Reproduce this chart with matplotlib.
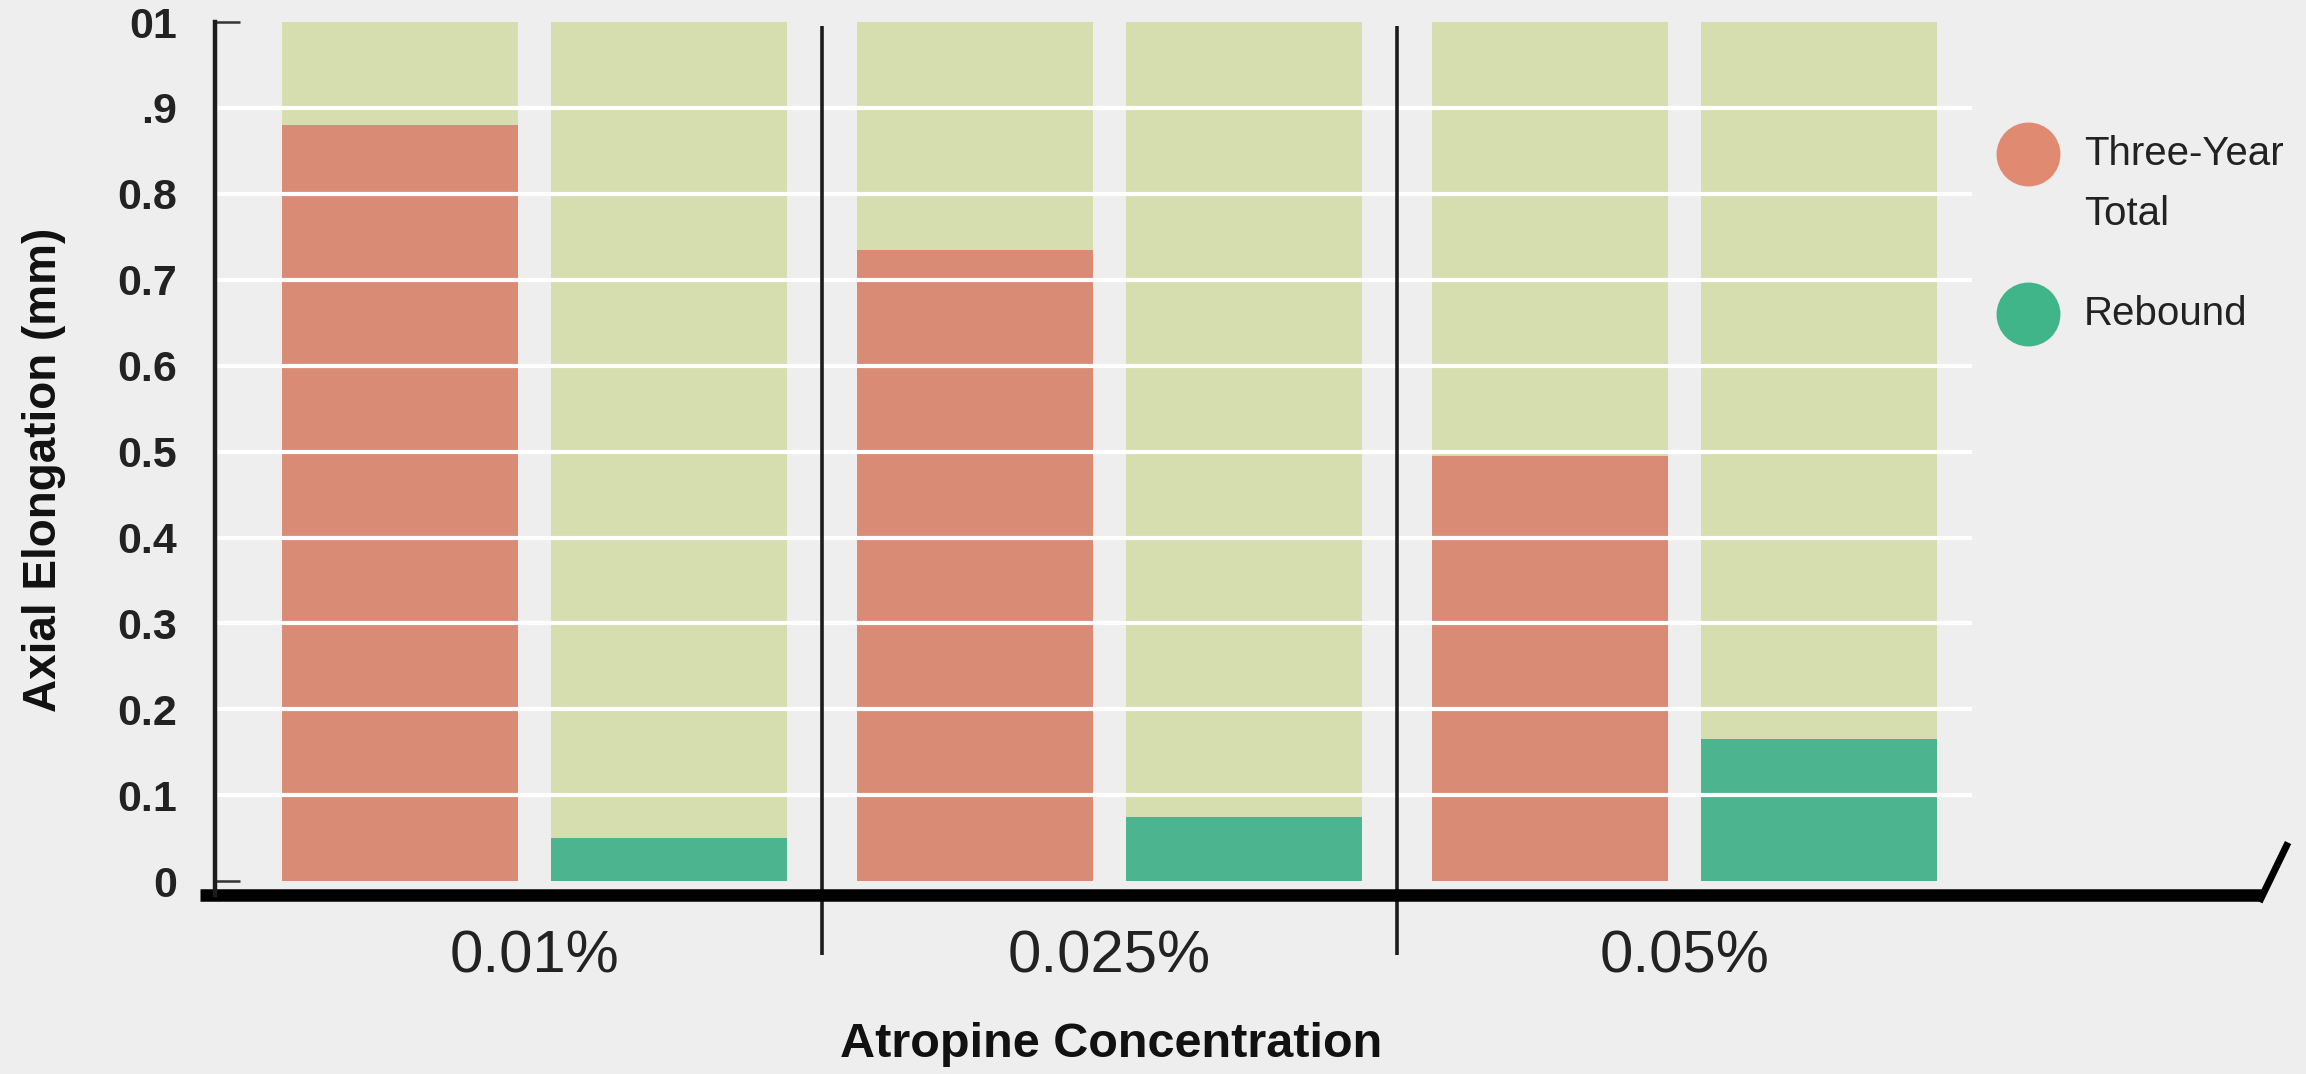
import numpy as np
import matplotlib.pyplot as plt

# axial elongation per atropine dose (mm)
concentrations = ['0.01%', '0.025%', '0.05%']
three_year_total = [0.88, 0.735, 0.495]
rebound = [0.05, 0.075, 0.165]
scale_max = 1.0
y_ticks = [0, 0.1, 0.2, 0.3, 0.4, 0.5, 0.6, 0.7, 0.8, 0.9, 1.0]
y_tick_labels = ['0', '0.1', '0.2', '0.3', '0.4', '0.5', '0.6', '0.7', '0.8', '.9', '01']

bg = '#eeeeee'
track = '#d6deb0'
red = '#d98b75'
teal = '#4cb58f'
ink = '#1c1c1c'
font = ['Liberation Sans', 'DejaVu Sans']

fig = plt.figure(figsize=(23.06, 10.74), dpi=100, facecolor=bg)
ax = fig.add_axes([0.0932, 0.1667, 0.8898, 0.8128])
ax.set_facecolor(bg)

x = np.arange(len(concentrations))
off = 0.234
w = 0.41

# pale full-height tracks behind each bar
ax.bar(x - off, [scale_max] * len(x), w, color=track, zorder=1)
ax.bar(x + off, [scale_max] * len(x), w, color=track, zorder=1)
ax.bar(x - off, three_year_total, w, color=red, zorder=2)
ax.bar(x + off, rebound, w, color=teal, zorder=2)

# white grid lines over the bars
ax.hlines(y_ticks[1:-1], -0.556, 2.5, color='white', lw=3, zorder=3)

ax.set_xlim(-0.556, 3.013)
ax.set_ylim(-0.016, 1.0)

# group separators
ax.vlines([0.5, 1.5], -0.086, 0.995, color=ink, lw=2.6, zorder=4, clip_on=False)

# heavy baseline with the slash at its end
ax.plot([-0.582, 3.004], [-0.016, -0.016], color='black', lw=9, solid_capstyle='butt',
        clip_on=False, zorder=5)
ax.plot([3.0, 3.05], [-0.024, 0.045], color='black', lw=5, solid_capstyle='butt',
        clip_on=False, zorder=5)

for s in ['top', 'right', 'bottom']:
    ax.spines[s].set_visible(False)
ax.spines['left'].set_linewidth(3.2)
ax.spines['left'].set_color(ink)
ax.spines['left'].set_zorder(5)

ax.set_yticks(y_ticks)
ax.set_yticklabels(y_tick_labels, family=font, fontsize=31, fontweight='bold',
                   color='#222222')
ax.tick_params(axis='y', direction='in', length=18, width=1.8, color='#333333', pad=27)

ax.set_xticks(x)
ax.set_xticklabels(concentrations, family=font, fontsize=43, color='#222222')
ax.tick_params(axis='x', length=0, pad=25)

ax.set_xlabel('Atropine Concentration', family=font, fontsize=35, fontweight='bold',
              color='#111111')
ax.xaxis.set_label_coords(0.4366, -0.1455)
ax.set_ylabel('Axial Elongation (mm)', family=font, fontsize=33, fontweight='bold',
              color='#111111')
ax.yaxis.set_label_coords(-0.0726, 0.487)

# legend: coloured dots with labels
ax.plot([0.8835], [0.8488], 'o', ms=45, color='#e08a72', transform=ax.transAxes, clip_on=False)
ax.plot([0.8835], [0.666], 'o', ms=45, color='#3fb589', transform=ax.transAxes, clip_on=False)
ax.text(0.9108, 0.8488, 'Three-Year', transform=ax.transAxes, family=font,
        fontsize=29, color='#222222', ha='left', va='center')
ax.text(0.9108, 0.780, 'Total', transform=ax.transAxes, family=font,
        fontsize=29, color='#222222', ha='left', va='center')
ax.text(0.9108, 0.666, 'Rebound', transform=ax.transAxes, family=font,
        fontsize=29, color='#222222', ha='left', va='center')

fig.savefig('out.png', dpi=100, facecolor=bg)
